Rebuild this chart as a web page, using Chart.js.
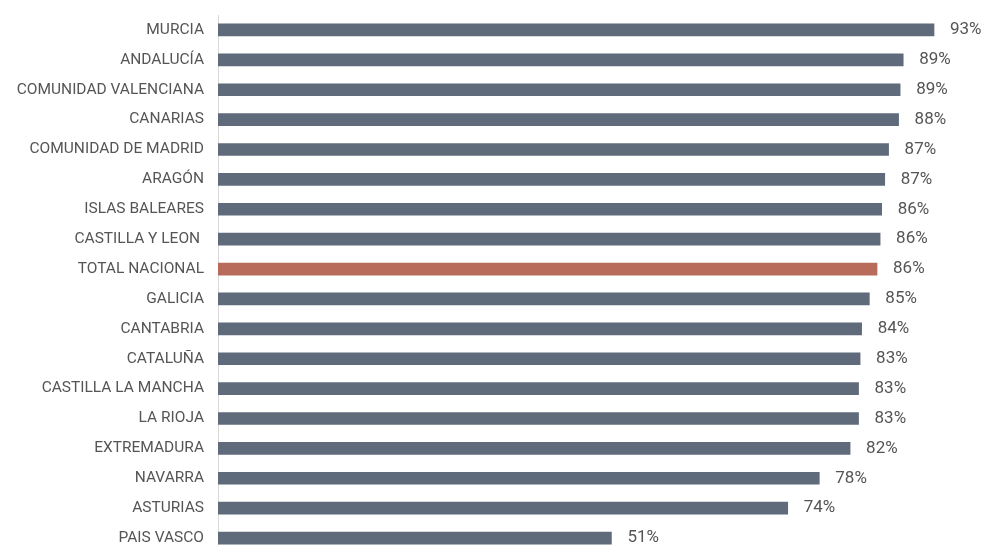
<!DOCTYPE html>
<html>
<head>
<meta charset="utf-8">
<script src="https://cdn.jsdelivr.net/npm/chart.js@4.4.1/dist/chart.umd.min.js"></script>
<style>
  html, body { margin: 0; padding: 0; overflow: hidden; background: #fff; }
  #wrap { width: 985px; height: 556px; }
</style>
</head>
<body>
<div id="wrap"><canvas id="regionChart" width="985" height="556"></canvas></div>
<script>
// ======= Data =======
const regions = [
  'MURCIA', 'ANDALUCÍA', 'COMUNIDAD VALENCIANA', 'CANARIAS', 'COMUNIDAD DE MADRID',
  'ARAGÓN', 'ISLAS BALEARES', 'CASTILLA Y LEON ', 'TOTAL NACIONAL', 'GALICIA',
  'CANTABRIA', 'CATALUÑA', 'CASTILLA LA MANCHA', 'LA RIOJA', 'EXTREMADURA',
  'NAVARRA', 'ASTURIAS', 'PAIS VASCO'
];
const percentages = [
  93.0, 89.0, 88.6, 88.4, 87.1,
  86.6, 86.2, 86.0, 85.6, 84.6,
  83.6, 83.4, 83.2, 83.2, 82.1,
  78.1, 74.0, 51.1
];
const highlight = 'TOTAL NACIONAL';

const barColor = '#5f6b7b';
const totalColor = '#b86b5a';
const textColor = '#555555';

// draws the "93%" labels at the end of each bar
const valueLabels = {
  id: 'valueLabels',
  afterDatasetsDraw(chart) {
    const ctx = chart.ctx;
    const meta = chart.getDatasetMeta(0);
    ctx.save();
    ctx.font = '17px Roboto';
    ctx.fillStyle = textColor;
    ctx.textAlign = 'left';
    ctx.textBaseline = 'middle';
    meta.data.forEach((bar, i) => {
      ctx.fillText(Math.round(percentages[i]) + '%', bar.x + 16, bar.y);
    });
    ctx.restore();
  }
};

new Chart(document.getElementById('regionChart').getContext('2d'), {
  type: 'bar',
  data: {
    labels: regions,
    datasets: [{
      data: percentages,
      backgroundColor: regions.map(r => r === highlight ? totalColor : barColor),
      barThickness: 12
    }]
  },
  options: {
    indexAxis: 'y',
    responsive: false,
    animation: false,
    layout: { padding: { top: 15, bottom: 3, left: 0, right: 12.5 } },
    plugins: {
      legend: { display: false },
      tooltip: { enabled: false }
    },
    scales: {
      x: { display: false, min: 0, max: 98 },
      y: {
        grid: { display: false, drawTicks: false },
        border: { display: true, color: '#d9d9d9', width: 1 },
        ticks: {
          padding: 14,
          color: textColor,
          font: { family: 'Roboto', size: 15.5 }
        },
        afterFit(scale) {
          scale.width = 218;
          scale.paddingTop = 0;
          scale.paddingBottom = 0;
        }
      }
    }
  },
  plugins: [valueLabels]
});
</script>
</body>
</html>
